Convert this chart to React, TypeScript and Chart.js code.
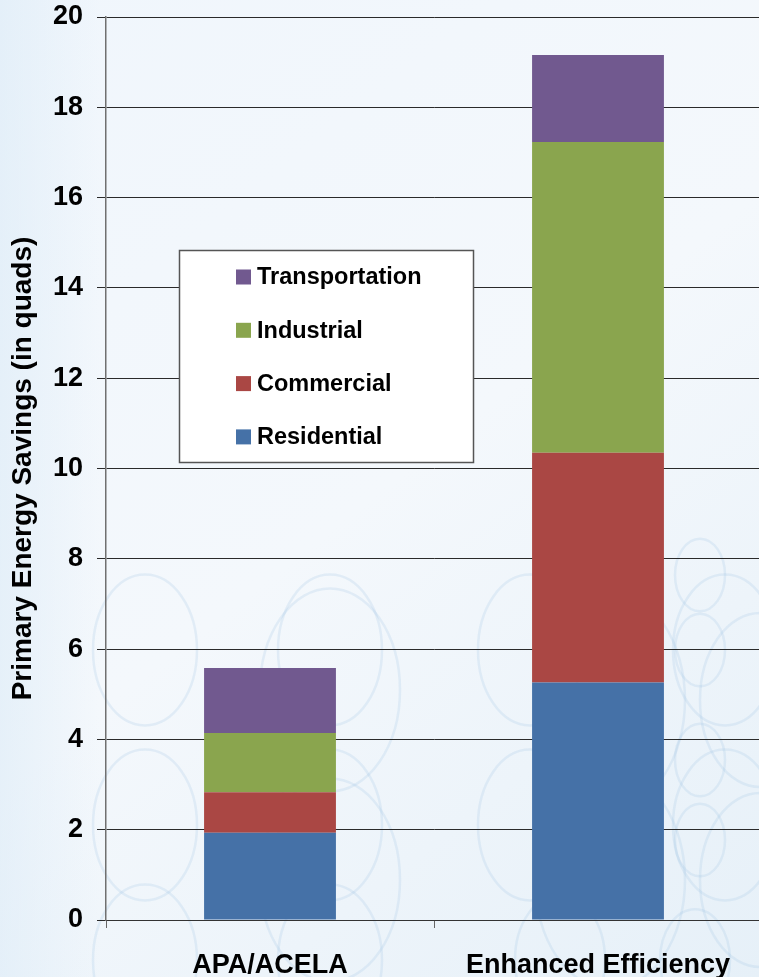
import React, { useEffect, useRef } from "react";
import { Chart, registerables } from "chart.js";

Chart.register(...registerables);

const categories = ["APA/ACELA", "Enhanced Efficiency"];
const seriesNames = ["Residential", "Commercial", "Industrial", "Transportation"];
const residential = [1.93, 5.26];
const commercial = [0.9, 5.09];
const industrial = [1.31, 6.88];
const transportation = [1.44, 1.93];
const seriesColors = ["#4571a7", "#aa4744", "#8aa54e", "#71598f"];
const yTicks = [0, 2, 4, 6, 8, 10, 12, 14, 16, 18, 20];

const FONT = "'Liberation Sans', Arial, sans-serif";

const backgroundPlugin = {
  id: "bgDecor",
  beforeDraw(chart: any) {
    const { ctx, width, height } = chart;
    ctx.save();
    const g = ctx.createLinearGradient(0, 0, width, height);
    g.addColorStop(0, "#f0f6fc");
    g.addColorStop(0.5, "#f4f8fc");
    g.addColorStop(1, "#e6f0f8");
    ctx.fillStyle = g;
    ctx.fillRect(0, 0, width, height);
    const lg = ctx.createLinearGradient(0, 0, 100, 0);
    lg.addColorStop(0, "rgba(220,235,247,0.6)");
    lg.addColorStop(1, "rgba(220,235,247,0)");
    ctx.fillStyle = lg;
    ctx.fillRect(0, 0, 100, height);
    const circles = [
      [145, 650, 52], [330, 650, 52], [330, 690, 70],
      [145, 825, 52], [330, 825, 52], [330, 880, 70],
      [145, 960, 52], [330, 960, 52],
      [530, 650, 52], [530, 825, 52], [610, 700, 75], [610, 880, 75],
      [700, 575, 25], [700, 650, 25], [700, 760, 25], [700, 840, 25],
      [725, 650, 52], [725, 825, 52], [760, 700, 60], [760, 880, 60],
      [560, 960, 45], [695, 960, 35],
    ];
    ctx.strokeStyle = "rgba(160,198,228,0.22)";
    ctx.lineWidth = 2.5;
    for (const [x, y, r] of circles) {
      ctx.beginPath();
      ctx.ellipse(x, y, r, r * 1.45, 0, 0, Math.PI * 2);
      ctx.stroke();
    }
    ctx.restore();
  },
};

const legendPlugin = {
  id: "boxLegend",
  afterDraw(chart: any) {
    const { ctx } = chart;
    const x = 179, y = 250, w = 294, h = 212;
    ctx.save();
    ctx.fillStyle = "#ffffff";
    ctx.fillRect(x, y, w, h);
    ctx.strokeStyle = "#555555";
    ctx.lineWidth = 1.5;
    ctx.strokeRect(x + 0.5, y + 0.5, w, h);
    ctx.font = `bold 23.5px ${FONT}`;
    ctx.textBaseline = "middle";
    const ds = chart.data.datasets.slice().reverse();
    ds.forEach((d: any, i: number) => {
      const cy = 277 + i * 53.3;
      ctx.fillStyle = d.backgroundColor;
      ctx.fillRect(236, cy - 7.5, 15, 15);
      ctx.fillStyle = "#000000";
      ctx.fillText(d.label, 257, cy + 1);
    });
    ctx.restore();
  },
};

export default function App() {
  const ref = useRef<HTMLCanvasElement>(null);
  useEffect(() => {
    document.body.style.margin = "0";
    document.body.style.overflow = "hidden";
    const values = [residential, commercial, industrial, transportation];
    const chart = new Chart(ref.current!, {
      type: "bar",
      data: {
        labels: categories,
        datasets: seriesNames.map((n, i) => ({
          label: n,
          data: values[i],
          backgroundColor: seriesColors[i],
          borderWidth: 0,
          categoryPercentage: 1,
          barPercentage: 0.402,
        })),
      },
      options: {
        animation: false,
        responsive: false,
        maintainAspectRatio: false,
        layout: { padding: { top: 17, right: 3, left: 0, bottom: 0 } },
        plugins: { legend: { display: false }, tooltip: { enabled: false } },
        scales: {
          x: {
            stacked: true,
            afterFit: (s: any) => { s.height = 57; s.paddingLeft = 0; s.paddingRight = 0; },
            grid: {
              display: true,
              offset: true,
              drawOnChartArea: false,
              drawTicks: true,
              tickLength: 8,
              color: "#666666",
            },
            border: { display: true, color: "#333333", width: 1 },
            ticks: {
              color: "#000000",
              font: { family: FONT, size: 27, weight: "bold" },
              padding: 21,
              maxRotation: 0,
            },
          },
          y: {
            stacked: true,
            min: 0,
            max: 20,
            afterBuildTicks: (s: any) => { s.ticks = yTicks.map((v) => ({ value: v })); },
            afterFit: (s: any) => { s.width = 106; s.paddingTop = 0; s.paddingBottom = 0; },
            grid: { color: "#2a2a2a", lineWidth: 1, tickLength: 9, drawTicks: true },
            border: { display: true, color: "#707070", width: 1.5 },
            ticks: {
              color: "#000000",
              font: { family: FONT, size: 27, weight: "bold" },
              padding: 14,
            },
            title: {
              display: true,
              text: "Primary Energy Savings (in quads)",
              color: "#000000",
              font: { family: FONT, size: 28, weight: "bold" },
              padding: { top: 6, bottom: 0 },
            },
          },
        },
      },
      plugins: [backgroundPlugin, legendPlugin],
    } as any);
    return () => chart.destroy();
  }, []);
  return (
    <div style={{ position: "fixed", left: 0, top: 0, width: 759, height: 977, overflow: "hidden" }}>
      <canvas ref={ref} width={765} height={977} style={{ display: "block", width: 765, height: 977 }} />
    </div>
  );
}
